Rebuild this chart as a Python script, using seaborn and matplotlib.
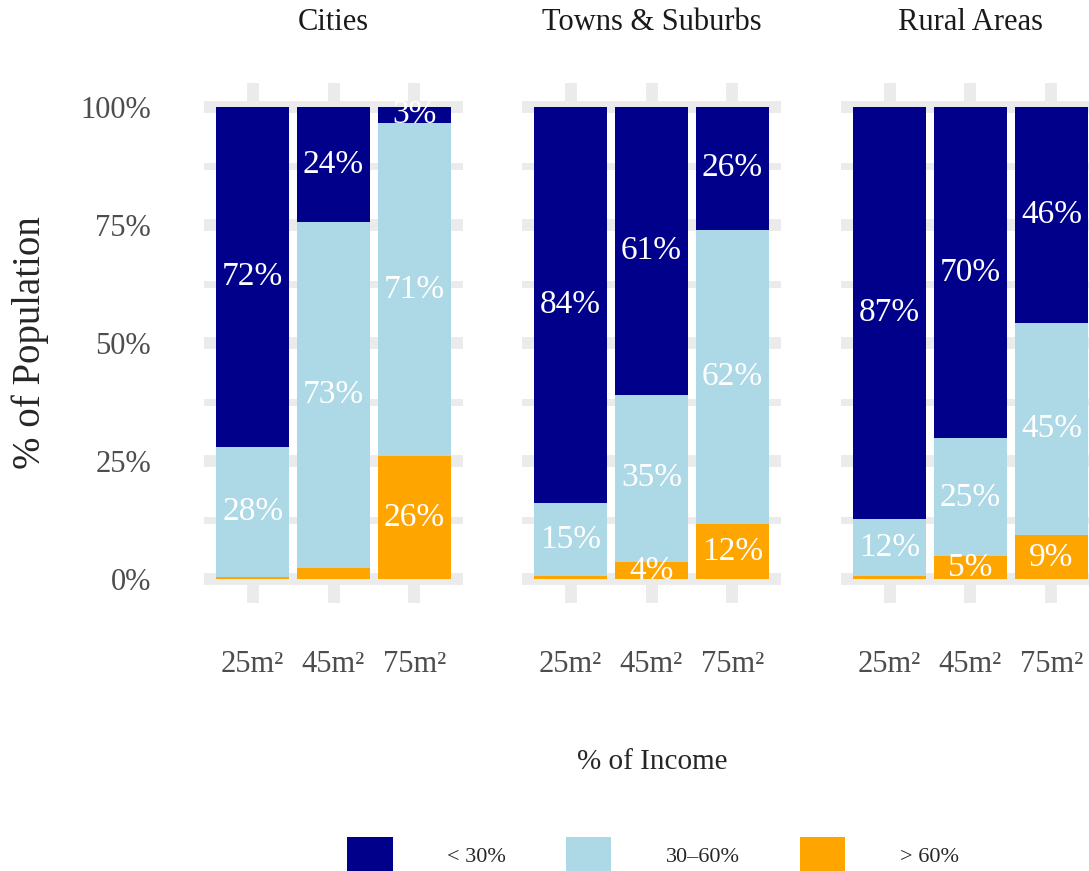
import pandas as pd
import seaborn as sns
import matplotlib.pyplot as plt
from matplotlib.patches import Patch
from matplotlib.ticker import FixedLocator

# categories
areas = ['Cities', 'Towns & Suburbs', 'Rural Areas']
sizes = ['25m²', '45m²', '75m²']
groups = ['< 30%', '30–60%', '> 60%']
colors = ['darkblue', 'lightblue', 'orange']

# % of population by share of income spent on housing (per flat size)
cities_low = [71.9, 24.4, 3.4]
cities_mid = [27.6, 73.1, 70.6]
cities_high = [0.5, 2.5, 26.0]

towns_low = [83.9, 60.9, 26.0]
towns_mid = [15.3, 35.4, 62.2]
towns_high = [0.8, 3.7, 11.8]

rural_low = [87.3, 70.2, 45.7]
rural_mid = [11.9, 24.9, 45.0]
rural_high = [0.8, 4.9, 9.3]

rows = []
for area, lo, mi, hi in zip(areas,
                            [cities_low, towns_low, rural_low],
                            [cities_mid, towns_mid, rural_mid],
                            [cities_high, towns_high, rural_high]):
    for s, a, b, c in zip(sizes, lo, mi, hi):
        rows.append({'area': area, 'size': s, 'low': a, 'mid': b, 'high': c})
df = pd.DataFrame(rows)
df['top_high'] = df['high']
df['top_mid'] = df['high'] + df['mid']
df['top_low'] = df['high'] + df['mid'] + df['low']

sns.set_theme(style='white')
plt.rcParams['font.family'] = ['Liberation Serif', 'DejaVu Serif']

W, H = 1089, 871
fig = plt.figure(figsize=(W / 100, H / 100), dpi=100)

grid_col = '#EBEBEB'
lefts = [204, 522, 841]
for area, left in zip(areas, lefts):
    ax = fig.add_axes([left / W, (H - 603) / H, 259 / W, 520 / H])
    sub = df[df['area'] == area]
    # stacked bars: draw cumulative totals from the top layer down
    for col, c in [('top_low', colors[0]), ('top_mid', colors[1]), ('top_high', colors[2])]:
        sns.barplot(data=sub, x='size', y=col, order=sizes, color=c,
                    saturation=1, width=0.9, linewidth=0, ax=ax, zorder=2)
    # labels at segment centres
    for i, r in enumerate(sub.itertuples()):
        for val, base in [(r.high, 0), (r.mid, r.high), (r.low, r.high + r.mid)]:
            if val >= 3:
                ax.text(i, base + val / 2, f"{round(val)}%", ha='center',
                        va='center', color='white', fontsize=24, zorder=3)
    ax.set_xlim(-0.6, 2.6)
    ax.set_ylim(-5, 105)
    ax.set_axisbelow(True)
    ax.yaxis.set_major_locator(FixedLocator([0, 25, 50, 75, 100]))
    ax.yaxis.set_minor_locator(FixedLocator([12.5, 37.5, 62.5, 87.5]))
    ax.grid(True, which='major', axis='both', color=grid_col, linewidth=8.5)
    ax.grid(True, which='minor', axis='y', color=grid_col, linewidth=5)
    for s in ax.spines.values():
        s.set_visible(False)
    ax.tick_params(axis='x', length=0, pad=34, labelsize=22, labelcolor='#4D4D4D')
    ax.tick_params(axis='y', which='both', length=0, pad=38, labelsize=22,
                   labelcolor='#4D4D4D')
    ax.set_xlabel('')
    ax.set_ylabel('')
    if left == lefts[0]:
        ax.set_yticklabels(['0%', '25%', '50%', '75%', '100%'])
    else:
        ax.set_yticklabels([])
    ax.set_title(area, fontsize=22, color='#1A1A1A', pad=38)

fig.text(652 / W, 1 - 762 / H, '% of Income', ha='center', va='center', fontsize=21)
fig.text(30 / W, 1 - 343 / H, '% of Population', ha='center', va='center',
         rotation=90, fontsize=28)

handles = [Patch(facecolor=c, edgecolor='none') for c in colors]
fig.legend(handles, groups, loc='center', bbox_to_anchor=(653 / W, 16 / H),
           ncol=3, frameon=False, fontsize=16, handlelength=2.05,
           handleheight=2.05, handletextpad=2.45, columnspacing=2.7)

fig.savefig('out.png', dpi=100)
